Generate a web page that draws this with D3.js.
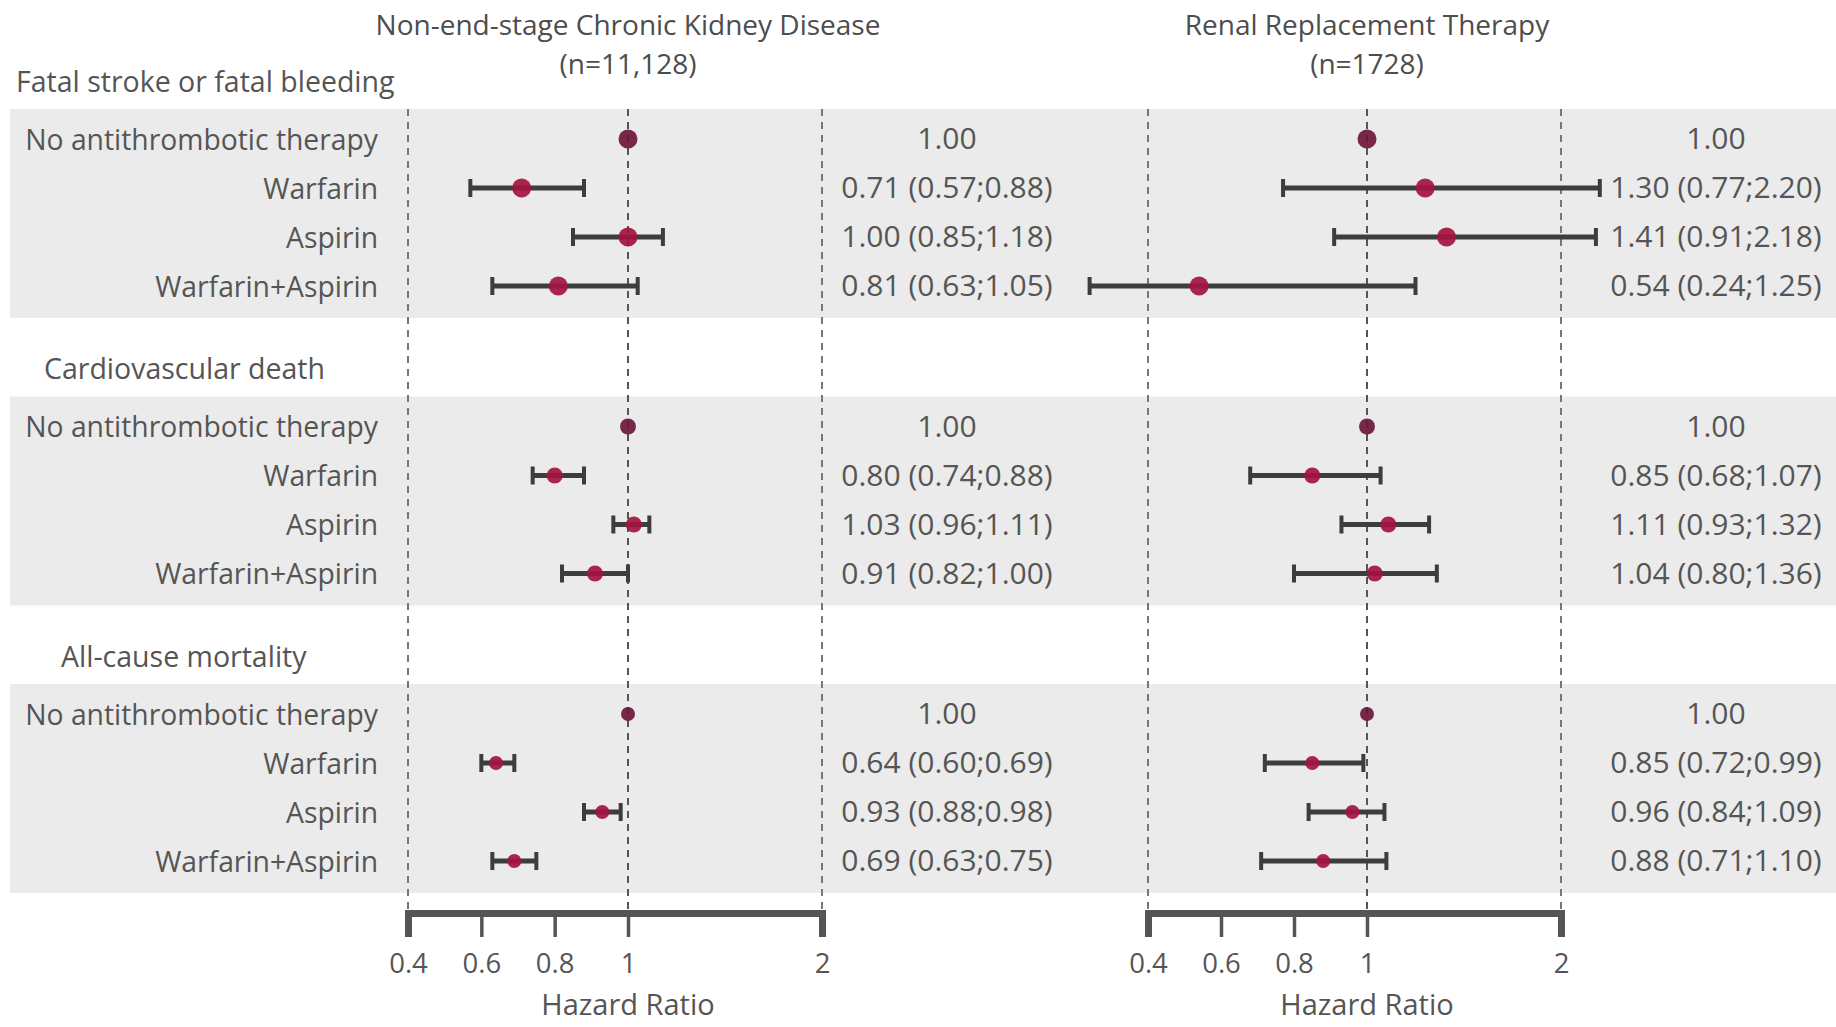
<!DOCTYPE html>
<html><head><meta charset="utf-8">
<script src="https://cdn.jsdelivr.net/npm/d3@7"></script>
<style>
html,body{margin:0;padding:0;background:#fff;}
svg{display:block;font-family:"Open Sans",sans-serif;}
</style></head><body>
<svg id="chart" width="1836" height="1027"></svg>
<script>
// ---------- data ----------
const outcomes = ["Fatal stroke or fatal bleeding", "Cardiovascular death", "All-cause mortality"];
const treatments = ["No antithrombotic therapy", "Warfarin", "Aspirin", "Warfarin+Aspirin"];
const panelTitles = ["Non-end-stage Chronic Kidney Disease", "Renal Replacement Therapy"];
const panelN = ["(n=11,128)", "(n=1728)"];
const tickValues = [0.4, 0.6, 0.8, 1, 2];
const tickLabels = ["0.4", "0.6", "0.8", "1", "2"];
const refLines = [0.4, 1, 2];
const axisTitle = "Hazard Ratio";

// hazard ratios [outcome][treatment]
const ckdHR = [[1.00, 0.71, 1.00, 0.81], [1.00, 0.80, 1.03, 0.91], [1.00, 0.64, 0.93, 0.69]];
const ckdLo = [[1.00, 0.57, 0.85, 0.63], [1.00, 0.74, 0.96, 0.82], [1.00, 0.60, 0.88, 0.63]];
const ckdHi = [[1.00, 0.88, 1.18, 1.05], [1.00, 0.88, 1.11, 1.00], [1.00, 0.69, 0.98, 0.75]];
const rrtHR = [[1.00, 1.30, 1.41, 0.54], [1.00, 0.85, 1.11, 1.04], [1.00, 0.85, 0.96, 0.88]];
const rrtLo = [[1.00, 0.77, 0.91, 0.24], [1.00, 0.68, 0.93, 0.80], [1.00, 0.72, 0.84, 0.71]];
const rrtHi = [[1.00, 2.20, 2.18, 1.25], [1.00, 1.07, 1.32, 1.36], [1.00, 0.99, 1.09, 1.10]];

// ---------- layout ----------
const W = 1836, H = 1027;
const panelRanges = [[408, 628, 822], [1148, 1367, 1561]];
const textCols = [947, 1716];
const headerX = [16, 44, 61];
const labelX = 378;
const axisY = 913;
const markerR = [9.5, 8, 7];
const textColor = "#555";
const dotColor = "#a3143f";
const refDotColor = "#6e1738";
const ciColor = "#3d3d3d";

const svg = d3.select("#chart");
const fmt = d3.format(".2f");

const groupScale = d3.scaleBand().domain(outcomes).range([109, 893]).paddingInner(0.273).paddingOuter(0);
const rowScale = d3.scalePoint().domain(treatments).range([30, 177]);
const yPos = (g, t) => groupScale(g) + rowScale(t);

const panelData = [
  {hr: ckdHR, lo: ckdLo, hi: ckdHi},
  {hr: rrtHR, lo: rrtLo, hi: rrtHi}
];
const xScales = panelRanges.map(r => d3.scaleLinear().domain([0.4, 1, 2]).range(r));

// bands
svg.append("g").selectAll("rect").data(outcomes).join("rect")
  .attr("x", 10).attr("width", W - 10)
  .attr("y", d => groupScale(d)).attr("height", groupScale.bandwidth())
  .attr("fill", "#ebebeb");

// dashed reference lines
xScales.forEach(x => {
  svg.append("g").selectAll("line").data(refLines).join("line")
    .attr("x1", d => x(d)).attr("x2", d => x(d))
    .attr("y1", groupScale.range()[0]).attr("y2", axisY)
    .attr("stroke", d => d === 1 ? "#555" : "#777")
    .attr("stroke-width", 2)
    .attr("stroke-dasharray", "7,6");
});

// group headers
svg.append("g").selectAll("text").data(outcomes).join("text")
  .attr("x", (d, i) => headerX[i])
  .attr("y", d => groupScale(d) - 25)
  .attr("dominant-baseline", "middle")
  .attr("font-size", 28.5).attr("fill", textColor)
  .text(d => d);

// row labels
outcomes.forEach(g => {
  svg.append("g").selectAll("text").data(treatments).join("text")
    .attr("x", labelX).attr("y", t => yPos(g, t) + 3)
    .attr("text-anchor", "end").attr("dominant-baseline", "middle")
    .attr("font-size", 28.3).attr("fill", textColor)
    .text(t => t);
});

// marks per panel
panelData.forEach((pd, p) => {
  const x = xScales[p];
  const rows = [];
  outcomes.forEach((g, gi) => treatments.forEach((t, ti) => {
    rows.push({g, gi, t, ti, hr: pd.hr[gi][ti], lo: pd.lo[gi][ti], hi: pd.hi[gi][ti]});
  }));
  const ciRows = rows.filter(d => d.hi > d.lo);
  const gp = svg.append("g");
  gp.selectAll("line.ci").data(ciRows).join("line").attr("class", "ci")
    .attr("x1", d => x(d.lo)).attr("x2", d => x(d.hi))
    .attr("y1", d => yPos(d.g, d.t)).attr("y2", d => yPos(d.g, d.t))
    .attr("stroke", ciColor).attr("stroke-width", 5);
  ["lo", "hi"].forEach(k => {
    gp.selectAll("line.cap" + k).data(ciRows).join("line").attr("class", "cap" + k)
      .attr("x1", d => x(d[k])).attr("x2", d => x(d[k]))
      .attr("y1", d => yPos(d.g, d.t) - 9).attr("y2", d => yPos(d.g, d.t) + 9)
      .attr("stroke", ciColor).attr("stroke-width", 4);
  });
  gp.selectAll("circle").data(rows).join("circle")
    .attr("cx", d => x(d.hr)).attr("cy", d => yPos(d.g, d.t))
    .attr("r", d => markerR[d.gi])
    .attr("fill", d => d.hi > d.lo ? dotColor : refDotColor)
    .attr("fill-opacity", 0.92);

  // HR text
  svg.append("g").selectAll("text").data(rows).join("text")
    .attr("x", textCols[p]).attr("y", d => yPos(d.g, d.t) + 2)
    .attr("text-anchor", "middle").attr("dominant-baseline", "middle")
    .attr("font-size", 30).attr("fill", textColor)
    .text(d => d.hi > d.lo ? `${fmt(d.hr)} (${fmt(d.lo)};${fmt(d.hi)})` : fmt(d.hr));

  // axis
  const ax = svg.append("g").attr("transform", `translate(0,${axisY})`)
    .call(d3.axisBottom(x).tickValues(tickValues).tickFormat((d, i) => tickLabels[i])
      .tickSizeOuter(0).tickSize(24).tickPadding(16));
  ax.select(".domain").attr("stroke", "#555").attr("stroke-width", 7);
  ax.selectAll(".tick line").attr("stroke", "#555").attr("stroke-width", 3.5);
  ax.selectAll(".tick text").attr("font-size", 27.5).attr("fill", textColor)
    .attr("font-family", "Open Sans, sans-serif");

  // axis title
  svg.append("text").attr("x", x(1)).attr("y", 1007)
    .attr("text-anchor", "middle").attr("dominant-baseline", "middle")
    .attr("font-size", 29).attr("fill", textColor).text(axisTitle);

  // panel titles
  svg.append("text").attr("x", x(1)).attr("y", 28)
    .attr("text-anchor", "middle").attr("dominant-baseline", "middle")
    .attr("font-size", 28).attr("fill", "#4d4d4d").text(panelTitles[p]);
  svg.append("text").attr("x", x(1)).attr("y", 67)
    .attr("text-anchor", "middle").attr("dominant-baseline", "middle")
    .attr("font-size", 28).attr("fill", "#4d4d4d").text(panelN[p]);
});
</script>
</body></html>
